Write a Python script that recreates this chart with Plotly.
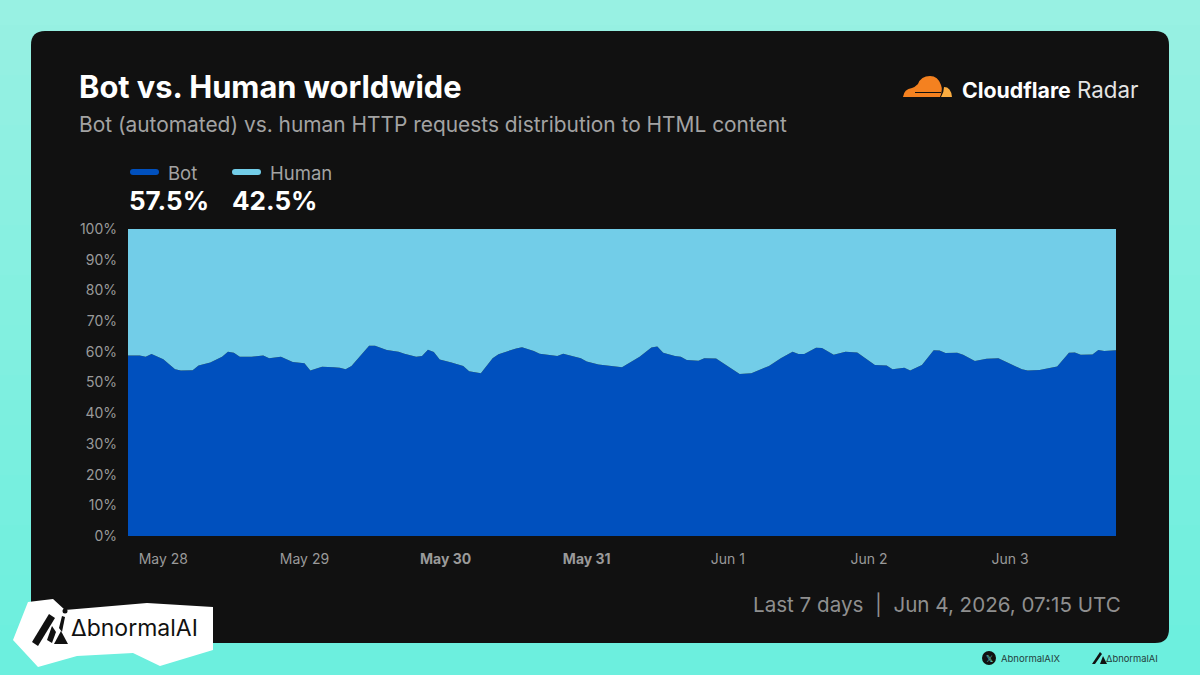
import pandas as pd
import plotly.graph_objects as go

# 1. DATA
start = pd.Timestamp("2026-05-27 18:00")
hours = [0, 2, 3, 4, 6, 8, 9, 11, 12, 14, 16, 17, 18, 19, 21, 23, 24, 26, 28, 30, 31, 33, 35, 36, 37, 38,
         41, 42, 44, 46, 47, 49, 50, 51, 52, 53, 55, 57, 58, 60, 62, 63, 66, 67, 69, 70, 73, 74, 77, 78, 80,
         84, 87, 89, 90, 91, 93, 94, 95, 97, 98, 100, 104, 106, 109, 111, 113, 114, 115, 117, 118, 120, 122,
         124, 127, 129, 130, 132, 133, 135, 137, 138, 139, 141, 142, 144, 146, 148, 152, 153, 155, 157, 158,
         160, 161, 162, 164, 165, 166, 168]
bot = [58.8, 58.8, 58.4, 59.3, 57.6, 54.3, 53.9, 54.0, 55.5, 56.5, 58.4, 60.0, 59.7, 58.4, 58.4, 58.8, 57.9, 58.4, 56.7, 56.3, 53.9, 55.1, 55.0, 54.8, 54.3, 55.4,
       62.0, 62.0, 60.6, 60.0, 59.4, 58.4, 58.6, 60.7, 59.9, 57.5, 56.5, 55.4, 53.7, 53.0, 57.9, 59.2, 61.1, 61.5, 60.3, 59.4, 58.6, 59.4, 57.9, 56.8, 55.9,
       55.0, 58.4, 61.4, 61.7, 59.7, 58.6, 58.4, 57.3, 57.1, 57.9, 57.8, 52.8, 53.0, 55.4, 57.9, 60.0, 59.3, 59.3, 61.3, 61.2, 59.0, 60.0,
       59.8, 55.7, 55.5, 54.3, 54.8, 53.9, 55.7, 60.5, 60.4, 59.6, 59.7, 59.0, 57.0, 57.7, 57.9, 54.3, 53.9, 54.1, 54.7, 55.2,
       59.7, 59.8, 59.0, 59.1, 60.6, 60.3, 60.5]
human = [41.2, 41.2, 41.6, 40.7, 42.4, 45.7, 46.1, 46.0, 44.5, 43.5, 41.6, 40.0, 40.3, 41.6, 41.6, 41.2, 42.1, 41.6, 43.3, 43.7, 46.1, 44.9, 45.0, 45.2, 45.7, 44.6,
         38.0, 38.0, 39.4, 40.0, 40.6, 41.6, 41.4, 39.3, 40.1, 42.5, 43.5, 44.6, 46.3, 47.0, 42.1, 40.8, 38.9, 38.5, 39.7, 40.6, 41.4, 40.6, 42.1, 43.2, 44.1,
         45.0, 41.6, 38.6, 38.3, 40.3, 41.4, 41.6, 42.7, 42.9, 42.1, 42.2, 47.2, 47.0, 44.6, 42.1, 40.0, 40.7, 40.7, 38.7, 38.8, 41.0, 40.0,
         40.2, 44.3, 44.5, 45.7, 45.2, 46.1, 44.3, 39.5, 39.6, 40.4, 40.3, 41.0, 43.0, 42.3, 42.1, 45.7, 46.1, 45.9, 45.3, 44.8,
         40.3, 40.2, 41.0, 40.9, 39.4, 39.7, 39.5]
day_ticks = ["2026-05-28", "2026-05-29", "2026-05-30", "2026-05-31", "2026-06-01", "2026-06-02", "2026-06-03"]
day_labels = ["May 28", "May 29", "<b>May 30</b>", "<b>May 31</b>", "Jun 1", "Jun 2", "Jun 3"]
pct_ticks = [0, 10, 20, 30, 40, 50, 60, 70, 80, 90, 100]

times = [start + pd.Timedelta(hours=h) for h in hours]
FONT = "Inter"
W, H = 1200, 675


def px(x):
    return x / W


def py(y):
    return 1 - y / H


def rect(x0, y0, x1, y1, color, layer="below"):
    return dict(type="rect", xref="paper", yref="paper", x0=px(x0), x1=px(x1), y0=py(y0), y1=py(y1),
                fillcolor=color, line_width=0, layer=layer)


def path(points, color, layer="above"):
    # points in screen pixels, converted to paper coordinates
    d = "M " + " L ".join(f"{px(x):.5f},{py(y):.5f}" for x, y in points) + " Z"
    return dict(type="path", xref="paper", yref="paper", path=d, fillcolor=color, line_width=0, layer=layer)


def curve(start_pt, segments, color):
    # segments are (ctrl_x, ctrl_y, x, y) quadratic pieces, in screen pixels
    d = f"M {px(start_pt[0]):.5f},{py(start_pt[1]):.5f}"
    for cx, cy, x, y in segments:
        d += f" Q {px(cx):.5f},{py(cy):.5f} {px(x):.5f},{py(y):.5f}"
    return dict(type="path", xref="paper", yref="paper", path=d + " Z", fillcolor=color, line_width=0, layer="above")


def rounded(x0, y0, x1, y1, r, color, layer="below"):
    rx, ry = r / W, r / H
    a, b, c, d = px(x0), px(x1), py(y1), py(y0)
    p = (f"M {a+rx},{d} L {b-rx},{d} Q {b},{d} {b},{d-ry} L {b},{c+ry} Q {b},{c} {b-rx},{c} "
         f"L {a+rx},{c} Q {a},{c} {a},{c+ry} L {a},{d-ry} Q {a},{d} {a+rx},{d} Z")
    return dict(type="path", xref="paper", yref="paper", path=p, fillcolor=color, line_width=0, layer=layer)


def circle(cx, cy, r, color):
    return dict(type="circle", xref="paper", yref="paper", x0=px(cx - r), x1=px(cx + r), y0=py(cy + r), y1=py(cy - r),
                fillcolor=color, line_width=0, layer="above")


def text(x, y, s, size, color, anchor="left", weight=None):
    return dict(xref="paper", yref="paper", x=px(x), y=py(y), text=s, showarrow=False, xanchor=anchor, yanchor="middle",
                font=dict(family=FONT, size=size, color=color, weight=weight), borderpad=0)


# 2. CHART
fig = go.Figure()
fig.add_trace(go.Scatter(x=times, y=bot, name="Bot", mode="lines", stackgroup="one", line=dict(width=0, color="#0050BE"),
                         fillcolor="#0050BE", hoverinfo="skip"))
fig.add_trace(go.Scatter(x=times, y=human, name="Human", mode="lines", stackgroup="one", line=dict(width=0, color="#72CDE8"),
                         fillcolor="#72CDE8", hoverinfo="skip"))

# background: mint gradient in thin bands, then the dark card
shapes = []
bands = 27
for i in range(bands):
    t = i / (bands - 1)
    col = f"rgb({int(152 - 44 * t)},{int(241 - 2 * t)},{int(227 - 5 * t)})"
    shapes.append(rect(0, i * 25, W, (i + 1) * 25 + 1, col))
shapes.append(rounded(31, 31, 1169, 643, 14, "#111111"))

# cloudflare logo
shapes.append(curve((903, 97), [(904, 89, 912, 88), (915, 87, 918, 84), (921, 76, 930, 76),
                                (938, 76, 941, 85), (943, 90, 940, 97)], "#F48120"))
shapes.append(curve((941, 97), [(944, 92, 944, 87), (951, 87, 952, 97)], "#FBAD41"))
shapes.append(rect(915, 92, 941, 93, "#111111", layer="above"))

# AbnormalAI badge
shapes.append(path([(13, 640), (28, 602), (53, 599), (65, 610), (147, 603), (213, 607), (213, 650), (160, 666),
                    (133, 653), (77, 656), (38, 667)], "#FFFFFF"))
shapes += [path([(32, 642), (49, 614), (55, 618), (38, 646)], "#111111"),
           path([(47, 640), (52, 626), (56, 632), (52, 643)], "#111111"),
           path([(54, 644), (61, 631), (68, 644)], "#111111"),
           path([(59, 628), (62, 616), (65, 617), (62, 632)], "#111111"),
           circle(65, 611, 2.5, "#111111")]

# legend swatches
shapes.append(rounded(130, 169, 159, 175, 3, "#0050BE"))
shapes.append(rounded(232, 169, 261, 175, 3, "#72CDE8"))

# footer marks
shapes.append(circle(989, 658, 7, "#111111"))
shapes += [path([(1092, 664), (1100, 652), (1102, 654), (1095, 664)], "#111111"),
           path([(1100, 664), (1103, 656), (1107, 664)], "#111111")]

notes = [
    text(78, 86, "Bot vs. Human worldwide", 30.8, "#FFFFFF", weight=700),
    text(78, 124, "Bot (automated) vs. human HTTP requests distribution to HTML content", 20.9, "#A3A3A3"),
    text(961, 90, "Cloudflare", 21.3, "#FFFFFF", weight=700),
    text(1076, 90, "Radar", 22.3, "#E4E4E4"),
    text(167, 173, "Bot", 18.5, "#A3A3A3"),
    text(269, 173, "Human", 18.5, "#A3A3A3"),
    text(128, 201, "57.5%", 26, "#FFFFFF", weight=700),
    text(231, 201, "42.5%", 26, "#FFFFFF", weight=700),
    text(1122, 604, "Last 7 days  |  Jun 4, 2026, 07:15 UTC", 20.6, "#8F8F8F", anchor="right"),
    text(70, 628, "ΔbnormalAI", 23, "#111111"),
    text(989, 658, "𝕏", 9, "#7DEFE0", anchor="center"),
    text(1000, 658, "AbnormalAIX", 9.5, "#24403C"),
    text(1105, 658, "ΔbnormalAI", 9.4, "#24403C"),
]

fig.update_layout(
    width=W, height=H, autosize=False,
    margin=dict(l=0, r=0, t=0, b=0),
    paper_bgcolor="#7DEFE0", plot_bgcolor="rgba(0,0,0,0)",
    showlegend=False, shapes=shapes, annotations=notes,
    font=dict(family=FONT, color="#A3A3A3"),
    xaxis=dict(domain=[px(128), px(1116)], range=[start, start + pd.Timedelta(hours=168)], type="date", automargin=False,
               tickmode="array", tickvals=day_ticks, ticktext=day_labels, tickfont=dict(size=14, color="#9A9A9A"),
               showgrid=False, zeroline=False, showline=False, ticks="", ticklabelstandoff=13),
    yaxis=dict(domain=[py(536), py(229)], range=[0, 100], automargin=False, tickmode="array", tickvals=pct_ticks,
               ticktext=[f"{v}%" for v in pct_ticks], tickfont=dict(size=14, color="#9A9A9A"),
               showgrid=False, zeroline=False, showline=False, ticks="", ticklabelstandoff=10),
)

# the page body has a default margin, drop it so the figure fills the window
fig.write_html("out.html", config={"displayModeBar": False},
               post_script="document.body.style.margin='0';document.body.style.overflow='hidden';")
